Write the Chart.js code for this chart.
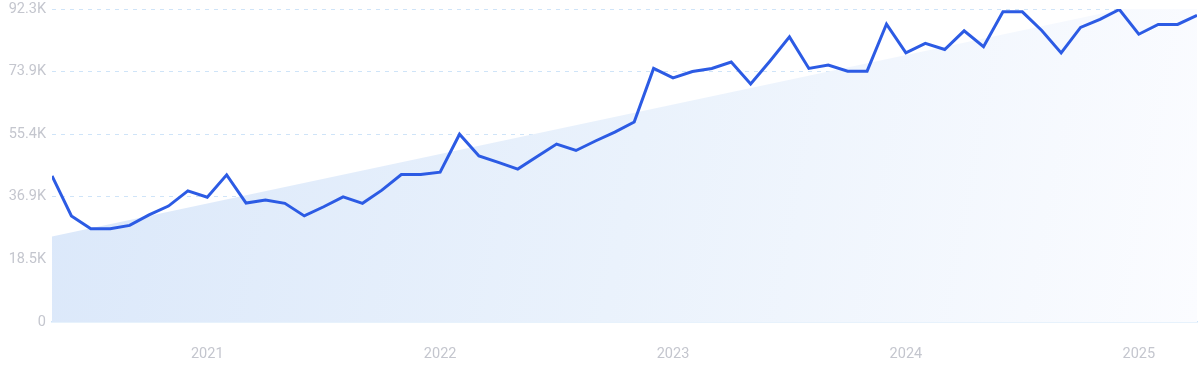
<!DOCTYPE html>
<html>
<head>
<meta charset="utf-8">
<script src="https://cdn.jsdelivr.net/npm/chart.js@4.4.1/dist/chart.umd.min.js"></script>
<style>
  html, body { margin: 0; padding: 0; background: #ffffff; }
  #wrap { width: 1200px; height: 371px; position: relative; }
</style>
</head>
<body>
<div id="wrap"><canvas id="c" width="1200" height="371"></canvas></div>
<script>
// Months: May 2020 .. Apr 2025
const months = [
  '2020-05','2020-06','2020-07','2020-08','2020-09','2020-10','2020-11','2020-12',
  '2021-01','2021-02','2021-03','2021-04','2021-05','2021-06','2021-07','2021-08','2021-09','2021-10','2021-11','2021-12',
  '2022-01','2022-02','2022-03','2022-04','2022-05','2022-06','2022-07','2022-08','2022-09','2022-10','2022-11','2022-12',
  '2023-01','2023-02','2023-03','2023-04','2023-05','2023-06','2023-07','2023-08','2023-09','2023-10','2023-11','2023-12',
  '2024-01','2024-02','2024-03','2024-04','2024-05','2024-06','2024-07','2024-08','2024-09','2024-10','2024-11','2024-12',
  '2025-01','2025-02','2025-03','2025-04'
];
const values = [
  43100, 31300, 27500, 27500, 28500, 31600, 34200, 38700,
  36800, 43400, 35100, 36000, 35000, 31300, 34000, 36900, 35000, 38900, 43500, 43500,
  44200, 55400, 49000, 47100, 45100, 48800, 52500, 50600, 53400, 56000, 59000, 74800,
  72000, 73900, 74800, 76700, 70200, 77000, 84100, 74800, 75800, 74000, 74000, 87900,
  79400, 82200, 80400, 85900, 81200, 91500, 91500, 86000, 79400, 86900, 89300, 92200,
  84900, 87800, 87800, 90500
];
// Trend line endpoints (first and last month)
const trendValues = [25200, 97000];
// Axis ticks
const yTickValues = [0, 18468, 36936, 55404, 73872, 92340];
const yTickLabels = ['0', '18.5K', '36.9K', '55.4K', '73.9K', '92.3K'];
const xTickMonths = ['2021-01', '2022-01', '2023-01', '2024-01', '2025-01'];
const xTickLabels = ['2021', '2022', '2023', '2024', '2025'];

const lineData = values.map((v, i) => ({ x: i, y: v }));
const trendData = [
  { x: 0, y: trendValues[0] },
  { x: months.length - 1, y: trendValues[1] }
];
const xTickIdx = xTickMonths.map(m => months.indexOf(m));

function areaGradient(ctx) {
  const chart = ctx.chart;
  const a = chart.chartArea;
  if (!a) return '#e6effb';
  const g = chart.ctx.createLinearGradient(a.left, a.top + 100, a.right, a.bottom);
  g.addColorStop(0, '#dbe8fa');
  g.addColorStop(0.5, '#eaf2fc');
  g.addColorStop(1, '#fbfcff');
  return g;
}

new Chart(document.getElementById('c'), {
  type: 'line',
  data: {
    datasets: [
      {
        data: lineData,
        borderColor: '#2c5be4',
        borderWidth: 3,
        pointRadius: 0,
        tension: 0,
        fill: false,
        order: 0
      },
      {
        data: trendData,
        borderWidth: 0,
        borderColor: 'rgba(0,0,0,0)',
        backgroundColor: areaGradient,
        pointRadius: 0,
        fill: 'origin',
        order: 1
      }
    ]
  },
  options: {
    responsive: false,
    animation: false,
    events: [],
    layout: { padding: { top: 9, right: 3, left: 0, bottom: 0 } },
    plugins: { legend: { display: false }, tooltip: { enabled: false } },
    scales: {
      x: {
        type: 'linear',
        min: 0,
        max: months.length - 1,
        afterBuildTicks: (s) => { s.ticks = xTickIdx.map(v => ({ value: v })); },
        afterFit: (s) => { s.height = 49; s.paddingLeft = 0; s.paddingRight = 0; },
        ticks: {
          autoSkip: false,
          maxRotation: 0,
          padding: 24,
          color: '#c4c6ce',
          font: { family: 'Roboto', size: 14.5 },
          callback: (v) => { const k = xTickIdx.indexOf(v); return k >= 0 ? xTickLabels[k] : ''; }
        },
        grid: { display: false, drawTicks: false },
        border: { display: true, color: '#cfe5fa', width: 1.5 }
      },
      y: {
        min: 0,
        max: yTickValues[yTickValues.length - 1],
        afterBuildTicks: (s) => { s.ticks = yTickValues.map(v => ({ value: v })); },
        afterFit: (s) => { s.width = 52; s.paddingTop = 0; s.paddingBottom = 0; },
        ticks: {
          padding: 6,
          color: '#c4c6ce',
          font: { family: 'Roboto', size: 14.5 },
          callback: (v) => { const k = yTickValues.indexOf(v); return k >= 0 ? yTickLabels[k] : ''; }
        },
        grid: {
          color: (c) => c.tick && c.tick.value === 0 ? 'rgba(0,0,0,0)' : '#cfe4f8',
          lineWidth: 1,
          drawTicks: false
        },
        border: { display: false, dash: [4, 5] }
      }
    }
  }
});
</script>
</body>
</html>
